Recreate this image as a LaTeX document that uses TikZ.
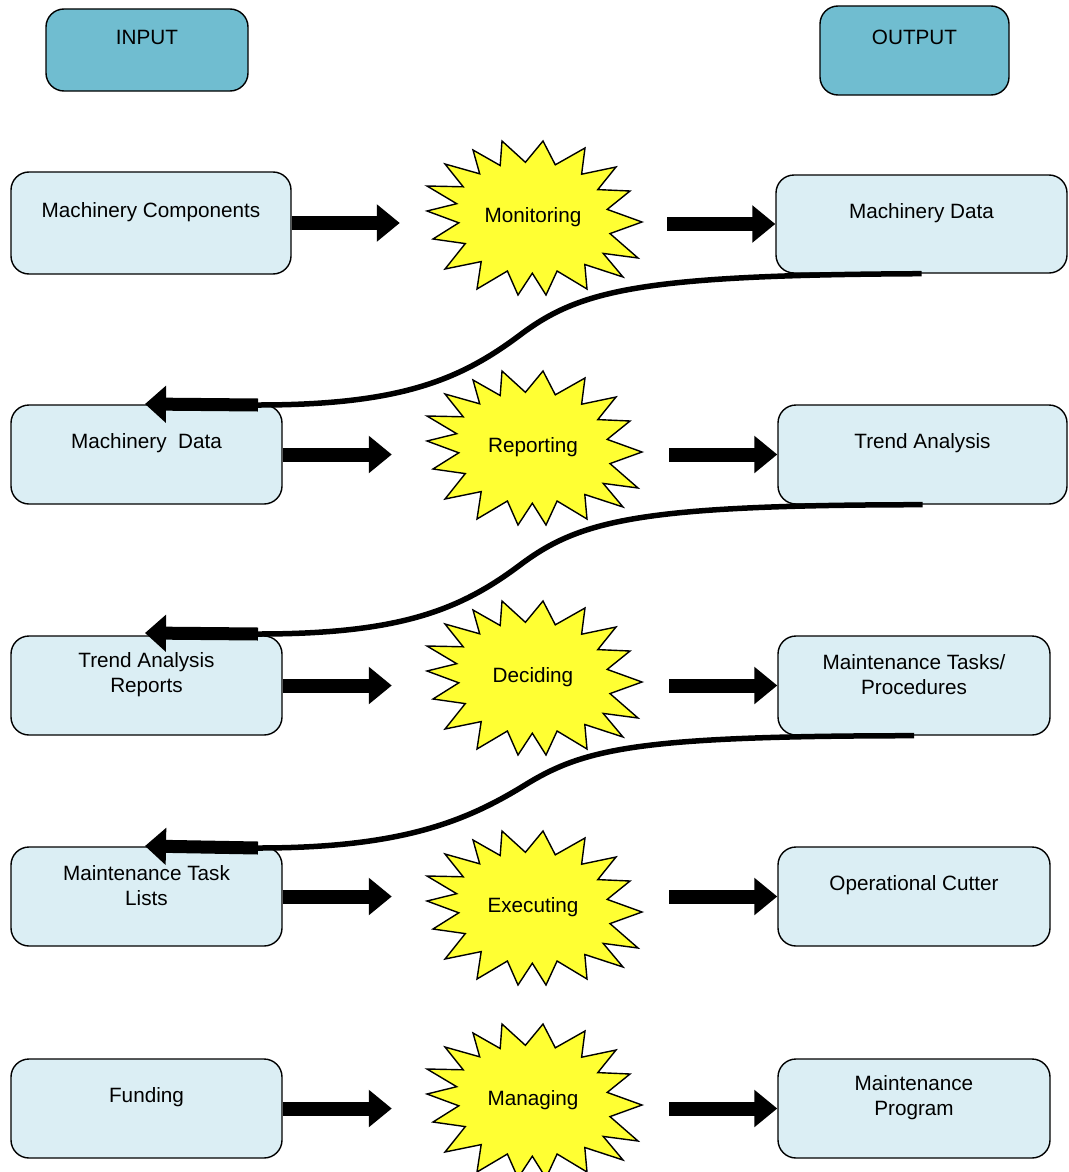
\documentclass[tikz,border=0pt]{standalone}
\usepackage{fontspec}
\setmainfont{Liberation Sans}
\usetikzlibrary{arrows.meta,backgrounds}

\definecolor{boxblue}{RGB}{219,238,244}
\definecolor{headblue}{RGB}{112,189,208}
\definecolor{burstyellow}{RGB}{255,255,51}

\tikzset{
  box/.style={draw=black, line width=1.4pt, rounded corners=18pt, fill=boxblue, inner sep=0pt},
  headbox/.style={box, fill=headblue},
  lbl/.style={font=\fontsize{20.7}{25}\selectfont, align=center, inner sep=0pt},
  fat/.style={line width=14pt, -{Triangle[length=23pt,width=36pt]}},
  backfat/.style={line width=13pt, -{Triangle[length=21pt,width=36pt]}},
  link/.style={line width=5.5pt},
  burst/.style={draw=black, line width=1.4pt, fill=burstyellow, line join=miter},
  burstnode/.style={lbl, minimum width=215pt, minimum height=154pt},
  burstpic/.pic={
    \draw[burst] (-31,-76) -- (-7.6,-54.7) -- (10,-76) -- (22.3,-52.2) -- (52,-69)
      -- (48.6,-42.8) -- (83,-50) -- (64.8,-27.4) -- (97,-26) -- (74.2,-7.6)
      -- (109,5) -- (77,16.6) -- (105,41) -- (70.2,36.4) -- (90,60) -- (51.8,47.5)
      -- (54,72) -- (24.1,54) -- (13,78) -- (-0.7,56.2) -- (-15,78) -- (-25.6,54)
      -- (-56,72) -- (-51.8,44.6) -- (-88,52) -- (-67.7,26.6) -- (-100,22)
      -- (-74.2,5.8) -- (-106,-6) -- (-76.3,-13.3) -- (-106,-31) -- (-69.8,-30.2)
      -- (-88,-53) -- (-53.3,-43.2) -- (-60,-67) -- (-32.8,-51.5) -- cycle;
  },
}

\begin{document}
\begin{tikzpicture}[x=1pt, y=-1pt]
\path[use as bounding box] (0,0) rectangle (1068,1172);

% column headings
\node[headbox, minimum width=202pt, minimum height=82pt] (hin) at (147,50) {};
\node[lbl] (hint) at ([yshift=13pt]hin.center) {INPUT};
\node[headbox, minimum width=189pt, minimum height=89pt] (hout) at (914.5,50.5) {};
\node[lbl] (houtt) at ([yshift=13pt]hout.center) {OUTPUT};

% input boxes
\node[box, minimum width=280pt, minimum height=102pt] (lb1) at (151,223) {};
\node[box, minimum width=271pt, minimum height=99pt] (lb2) at (146.5,454.5) {};
\node[box, minimum width=271pt, minimum height=99pt] (lb3) at (146.5,685.5) {};
\node[box, minimum width=271pt, minimum height=99pt] (lb4) at (146.5,896.5) {};
\node[box, minimum width=271pt, minimum height=99pt] (lb5) at (146.5,1108.5) {};
\node[lbl] (lt1) at ([yshift=11pt]lb1.center) {Machinery Components};
\node[lbl] (lt2) at ([yshift=11pt]lb2.center) {Machinery\ \ Data};
\node[lbl] (lt3) at ([yshift=11pt]lb3.center) {Trend Analysis\\Reports};
\node[lbl] (lt4) at ([yshift=11pt]lb4.center) {Maintenance Task\\Lists};
\node[lbl] (lt5) at ([yshift=11pt]lb5.center) {Funding};

% output boxes
\node[box, minimum width=291pt, minimum height=98pt] (rb1) at (921.5,224) {};
\node[box, minimum width=289pt, minimum height=99pt] (rb2) at (922.5,454.5) {};
\node[box, minimum width=272pt, minimum height=99pt] (rb3) at (914,685.5) {};
\node[box, minimum width=272pt, minimum height=99pt] (rb4) at (914,896.5) {};
\node[box, minimum width=272pt, minimum height=99pt] (rb5) at (914,1108.5) {};
\node[lbl] (rt1) at ([yshift=11pt]rb1.center) {Machinery Data};
\node[lbl] (rt2) at ([yshift=11pt]rb2.center) {Trend Analysis};
\node[lbl] (rt3) at ([yshift=11pt]rb3.center) {Maintenance Tasks/\\Procedures};
\node[lbl] (rt4) at ([yshift=11pt]rb4.center) {Operational Cutter};
\node[lbl] (rt5) at ([yshift=11pt]rb5.center) {Maintenance\\Program};

% process bursts
\node[burstnode] (s1) at (533,217) {Monitoring};
\node[burstnode] (s2) at (533,447) {Reporting};
\node[burstnode] (s3) at (533,677) {Deciding};
\node[burstnode] (s4) at (533,907) {Executing};
\node[burstnode] (s5) at (533,1100) {Managing};
\begin{pgfonlayer}{background}
  \foreach \s in {s1,s2,s3,s4,s5} { \pic at (\s.center) {burstpic}; }
\end{pgfonlayer}

% input -> process
\draw[fat, shorten >=25.5pt] (lb1.east) -- (lb1.east -| s1.west);
\foreach \i in {2,3,4,5}
  \draw[fat, shorten >=33.5pt] (lb\i.east) -- (lb\i.east -| s\i.west);

% process -> output
\draw[fat, shorten <=26.5pt] (s1.east |- rb1.west) -- (rb1.west);
\foreach \i in {2,3,4,5}
  \draw[fat, shorten <=28.5pt] (s\i.east |- rb\i.west) -- (rb\i.west);

% feedback: each output becomes the next input
\coordinate (e1) at (258,405);  \coordinate (h1) at (145,404);
\coordinate (e2) at (258,634);  \coordinate (h2) at (145,633);
\coordinate (e3) at (258,848);  \coordinate (h3) at (145,846);

\draw[link] (rb1.south) .. controls (640,275) and (580,290) .. (520,335)
  .. controls (460,380) and (400,405) .. (e1);
\draw[link] (rb2.south) .. controls (640,505) and (580,520) .. (520,565)
  .. controls (460,610) and (400,634) .. (e2);
\draw[link] (rb3.south) .. controls (640,736) and (585,748) .. (525,785)
  .. controls (465,822) and (400,848) .. (e3);

\draw[backfat] (e1) -- (h1);
\draw[backfat] (e2) -- (h2);
\draw[backfat] (e3) -- (h3);
\end{tikzpicture}
\end{document}
